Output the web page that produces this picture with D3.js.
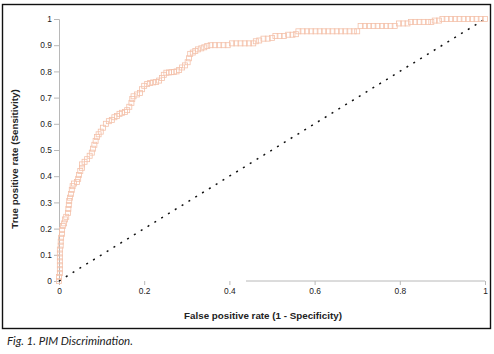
<!DOCTYPE html>
<html><head><meta charset="utf-8">
<script src="https://cdn.jsdelivr.net/npm/d3@7"></script>
<style>body{margin:0;background:#fff}svg{display:block}</style>
</head><body>
<svg id="c" width="494" height="354"></svg>
<script>
const fpr = [0,0,0.002,0.002,0.002,0.002,0.002,0.002,0.002,0.004,0.004,0.005,0.007,0.007,0.009,0.012,0.014,0.017,0.021,0.022,0.023,0.024,0.026,0.028,0.03,0.032,0.035,0.042,0.045,0.047,0.05,0.054,0.054,0.06,0.066,0.072,0.077,0.08,0.083,0.086,0.089,0.093,0.098,0.103,0.11,0.117,0.124,0.13,0.136,0.142,0.148,0.155,0.16,0.165,0.17,0.172,0.175,0.183,0.19,0.195,0.2,0.207,0.214,0.221,0.228,0.235,0.242,0.246,0.252,0.258,0.264,0.27,0.276,0.282,0.289,0.296,0.302,0.305,0.308,0.314,0.32,0.326,0.334,0.341,0.348,0.356,0.366,0.376,0.386,0.396,0.406,0.416,0.426,0.436,0.446,0.456,0.462,0.47,0.48,0.49,0.5,0.508,0.518,0.528,0.538,0.548,0.556,0.562,0.572,0.582,0.592,0.602,0.612,0.622,0.632,0.642,0.652,0.662,0.672,0.682,0.692,0.7,0.708,0.718,0.728,0.738,0.748,0.758,0.768,0.778,0.788,0.798,0.808,0.818,0.826,0.836,0.846,0.856,0.866,0.874,0.882,0.892,0.9,0.91,0.92,0.93,0.94,0.95,0.96,0.97,0.98,0.99,1];
const tpr = [0,0.015,0.03,0.045,0.06,0.075,0.09,0.105,0.12,0.135,0.15,0.165,0.18,0.195,0.21,0.22,0.235,0.245,0.26,0.275,0.29,0.305,0.318,0.332,0.348,0.362,0.372,0.378,0.39,0.405,0.42,0.432,0.445,0.455,0.465,0.478,0.49,0.505,0.52,0.535,0.55,0.56,0.57,0.585,0.6,0.61,0.615,0.625,0.63,0.638,0.642,0.645,0.652,0.665,0.68,0.695,0.705,0.712,0.718,0.732,0.745,0.752,0.756,0.758,0.76,0.765,0.775,0.787,0.795,0.796,0.797,0.798,0.8,0.805,0.815,0.823,0.835,0.85,0.867,0.872,0.878,0.884,0.888,0.892,0.897,0.9,0.9,0.9,0.9,0.9,0.907,0.907,0.907,0.907,0.907,0.907,0.915,0.918,0.925,0.925,0.928,0.935,0.935,0.935,0.94,0.94,0.942,0.953,0.953,0.953,0.953,0.953,0.953,0.953,0.953,0.953,0.953,0.953,0.953,0.953,0.953,0.953,0.973,0.973,0.973,0.973,0.973,0.973,0.973,0.973,0.973,0.983,0.983,0.983,0.989,0.989,0.989,0.989,0.989,0.989,0.994,0.994,1,1,1,1,1,1,1,1,1,1,1];
const refLine = [0, 1];
const xTicks = [0, 0.2, 0.4, 0.6, 0.8, 1];
const yTicks = [0, 0.1, 0.2, 0.3, 0.4, 0.5, 0.6, 0.7, 0.8, 0.9, 1];
const xTitle = "False positive rate (1 - Specificity)";
const yTitle = "True positive rate (Sensitivity)";
const caption = "Fig. 1. PIM Discrimination.";

const svg = d3.select("#c");
const x = d3.scaleLinear().domain([0, 1]).range([59, 485]);
const y = d3.scaleLinear().domain([0, 1]).range([281, 19]);
const fmt = d => String(d);
const axisCol = "#b8b8b8";
const font = "'Liberation Sans', Arial, sans-serif";

// frame
svg.append("rect").attr("x", 2.5).attr("y", 4.5).attr("width", 488).attr("height", 324)
  .attr("fill", "none").attr("stroke", "#111").attr("stroke-width", 1.4);

// y axis
const ya = svg.append("g").attr("transform", `translate(${x(0)},0)`)
  .call(d3.axisLeft(y).tickValues(yTicks).tickFormat(fmt).tickSize(5).tickPadding(2));
ya.select(".domain").attr("stroke", axisCol);
ya.selectAll(".tick line").attr("stroke", axisCol);
ya.selectAll("text").attr("font-family", font).attr("font-size", 8.4).attr("fill", "#222");

// x axis
const xa = svg.append("g").attr("transform", `translate(0,${y(0)})`)
  .call(d3.axisBottom(x).tickValues(xTicks).tickFormat(fmt).tickSize(4).tickPadding(3));
xa.select(".domain").remove();
xa.selectAll(".tick line").attr("stroke", axisCol);
xa.selectAll("text").attr("font-family", font).attr("font-size", 8.4).attr("fill", "#222");
svg.append("line").attr("x1", x(0.439)).attr("x2", x(1)).attr("y1", y(0)).attr("y2", y(0))
  .attr("stroke", axisCol).attr("stroke-width", 1);

// titles
svg.append("text").attr("x", 263).attr("y", 319).attr("text-anchor", "middle")
  .attr("font-family", font).attr("font-weight", "bold").attr("font-size", 9.8).attr("fill", "#222").text(xTitle);
svg.append("text").attr("transform", "translate(18,159) rotate(-90)").attr("text-anchor", "middle")
  .attr("font-family", font).attr("font-weight", "bold").attr("font-size", 9.8).attr("fill", "#222").text(yTitle);

// reference diagonal
svg.append("line").attr("x1", x(refLine[0])).attr("y1", y(refLine[0]))
  .attr("x2", x(refLine[1])).attr("y2", y(refLine[1]))
  .attr("stroke", "#111").attr("stroke-width", 1.5).attr("stroke-dasharray", "2,6");

// ROC points
const pts = fpr.map((f, i) => ({f, t: tpr[i]}));
const s = 5;
svg.append("g").selectAll("rect").data(pts).join("rect")
  .attr("x", d => x(d.f) - s / 2).attr("y", d => y(d.t) - s / 2)
  .attr("width", s).attr("height", s)
  .attr("fill", "none").attr("stroke", "#f4c1aa").attr("stroke-width", 0.8);

// caption
svg.append("text").attr("x", 7).attr("y", 345)
  .attr("font-family", "Lato, 'Open Sans', sans-serif").attr("font-style", "italic")
  .attr("font-size", 11.5).attr("fill", "#222").text(caption);
</script>
</body></html>
